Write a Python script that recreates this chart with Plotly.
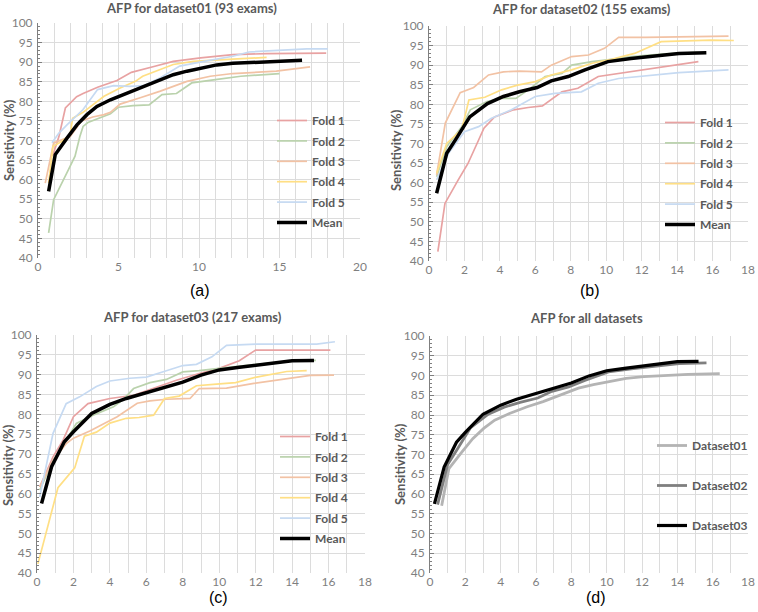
import plotly.graph_objects as go

W, H = 758, 612

fold_names = ["Fold 1", "Fold 2", "Fold 3", "Fold 4", "Fold 5"]
fold_colors = ["#e8a2a2", "#bad2ac", "#f2c2a4", "#ffdf84", "#c6daf2"]
dataset_names = ["Dataset01", "Dataset02", "Dataset03"]
dataset_colors = ["#b4b4b4", "#7f7f7f", "#000000"]

# ---------------- dataset01 (93 exams) ----------------
d1_f1_x = [0.9, 1.3, 1.7, 2.4, 2.8, 3.7, 4.9, 5.8, 7.2, 8.4, 10.1, 12.1, 14.2, 17.9]
d1_f1_y = [66.0, 71.0, 78.3, 81.2, 82.0, 83.6, 85.3, 87.4, 88.9, 90.2, 91.1, 91.9, 92.2, 92.3]
d1_f2_x = [0.66, 0.97, 1.9, 2.3, 2.6, 2.8, 3.1, 4.0, 4.5, 5.0, 5.9, 6.9, 7.7, 8.6, 9.55, 10.9, 12.6, 15.0]
d1_f2_y = [46.4, 54.9, 62.6, 66.0, 71.0, 73.6, 74.6, 75.9, 76.8, 78.5, 78.9, 79.1, 81.7, 82.0, 84.7, 85.5, 86.4, 87.1]
d1_f3_x = [0.45, 0.97, 2.0, 2.7, 3.4, 4.1, 4.5, 5.1, 6.35, 7.6, 9.25, 10.7, 12.1, 14.8, 16.9]
d1_f3_y = [59.1, 69.4, 71.0, 75.0, 76.0, 76.6, 77.2, 79.3, 80.9, 82.6, 85.1, 86.4, 87.1, 87.7, 88.8]
d1_f4_x = [0.66, 0.93, 1.5, 2.0, 2.15, 2.8, 4.1, 5.1, 6.05, 6.5, 8.4, 9.65, 12.1, 14.2]
d1_f4_y = [59.1, 68.5, 69.8, 71.5, 75.7, 77.2, 81.3, 83.4, 85.1, 86.4, 89.4, 90.2, 90.8, 91.2]
d1_f5_x = [0.87, 1.3, 1.8, 2.8, 3.7, 4.7, 5.7, 6.55, 7.6, 8.8, 10.3, 12.1, 13.1, 15.4, 16.7, 18.0]
d1_f5_y = [69.4, 71.9, 74.0, 77.9, 83.0, 84.0, 83.8, 84.0, 86.0, 89.0, 90.2, 91.5, 92.6, 93.0, 93.4, 93.4]
d1_mean_x = [0.66, 1.07, 1.8, 2.42, 3.04, 3.66, 4.5, 5.5, 6.4, 7.4, 8.4, 9.25, 10.1, 11.1, 12.1, 13.4, 14.6, 16.4]
d1_mean_y = [57.0, 66.4, 70.6, 74.0, 76.6, 78.7, 80.4, 82.1, 83.4, 85.1, 86.8, 87.7, 88.5, 89.3, 89.7, 90.0, 90.3, 90.5]

# ---------------- dataset02 (155 exams) ----------------
d2_f1_x = [0.5, 0.9, 1.65, 2.2, 2.8, 3.1, 3.7, 4.77, 5.6, 6.4, 7.5, 8.4, 9.55, 10.7, 12.2, 14.1, 15.2]
d2_f1_y = [42.4, 54.7, 60.7, 64.9, 70.9, 73.9, 76.8, 78.6, 79.2, 79.6, 83.2, 84.1, 87.1, 87.9, 88.8, 90.3, 90.9]
d2_f2_x = [0.43, 1.0, 1.85, 2.33, 3.27, 4.1, 4.9, 5.7, 6.55, 7.5, 8.05, 9.2, 10.3, 11.4, 13.3, 15.2]
d2_f2_y = [61.5, 69.2, 74.3, 78.6, 80.7, 81.5, 81.5, 84.0, 87.1, 87.9, 90.0, 90.9, 91.5, 92.2, 92.9, 93.3]
d2_f3_x = [0.43, 0.92, 1.76, 2.52, 3.36, 4.2, 5.1, 6.35, 6.9, 8.05, 9.0, 9.9, 10.7, 12.2, 16.9]
d2_f3_y = [62.0, 75.2, 83.0, 84.3, 87.5, 88.3, 88.5, 88.3, 90.0, 92.2, 92.6, 94.3, 97.1, 97.1, 97.4]
d2_f4_x = [0.43, 1.0, 1.85, 2.25, 3.15, 4.1, 5.0, 6.0, 6.9, 8.05, 9.2, 10.3, 11.6, 13.1, 15.9, 17.2]
d2_f4_y = [62.4, 70.0, 73.6, 81.1, 81.8, 83.7, 84.9, 85.8, 87.5, 88.8, 90.5, 91.5, 93.0, 96.0, 96.4, 96.3]
d2_f5_x = [0.43, 1.1, 2.0, 2.8, 3.5, 4.65, 6.0, 7.1, 8.6, 9.55, 10.7, 12.55, 14.1, 16.9]
d2_f5_y = [60.7, 67.5, 73.0, 74.3, 76.4, 78.6, 82.0, 82.8, 83.2, 85.4, 86.6, 87.5, 88.1, 88.8]
d2_mean_x = [0.43, 1.0, 1.5, 2.3, 3.3, 4.2, 5.1, 6.1, 6.9, 7.85, 8.8, 10.1, 11.4, 12.9, 14.1, 15.65]
d2_mean_y = [57.3, 67.5, 71.0, 76.8, 80.2, 82.0, 83.2, 84.3, 86.0, 87.1, 88.8, 90.9, 91.7, 92.5, 93.0, 93.2]

# ---------------- dataset03 (217 exams) ----------------
d3_f1_x = [0.15, 0.88, 1.43, 2.0, 2.8, 4.0, 5.3, 6.4, 7.65, 8.9, 10.0, 11.1, 12.0, 16.1]
d3_f1_y = [61.7, 69.3, 73.5, 79.4, 82.7, 84.0, 84.8, 86.5, 88.6, 90.3, 91.6, 93.5, 96.2, 96.2]
d3_f2_x = [0.15, 0.88, 1.6, 2.16, 3.08, 4.2, 4.7, 5.3, 6.2, 7.1, 8.0, 8.9, 10.0, 11.1, 12.5, 14.0, 15.3]
d3_f2_y = [60.9, 68.4, 73.5, 77.7, 79.8, 81.9, 83.6, 86.5, 88.0, 88.8, 90.7, 91.0, 91.6, 92.2, 92.8, 93.4, 93.6]
d3_f3_x = [0.15, 0.88, 1.6, 2.0, 2.9, 4.4, 5.5, 6.2, 7.1, 8.4, 8.9, 10.4, 11.9, 13.9, 15.0, 16.3]
d3_f3_y = [61.7, 68.4, 72.6, 74.0, 75.8, 79.4, 82.8, 83.4, 83.8, 84.0, 86.5, 86.6, 87.8, 89.2, 89.8, 89.9]
d3_f4_x = [0.05, 0.5, 1.15, 2.07, 2.6, 3.26, 4.0, 4.9, 5.6, 6.4, 7.0, 7.8, 8.75, 9.85, 10.9, 12.05, 13.7, 14.8]
d3_f4_y = [42.3, 49.9, 61.5, 66.5, 74.5, 75.5, 77.8, 79.0, 79.2, 79.8, 84.0, 84.6, 87.2, 87.6, 88.0, 89.4, 90.8, 91.0]
d3_f5_x = [0.15, 0.88, 1.6, 2.34, 3.26, 4.0, 5.1, 6.0, 7.1, 8.0, 8.75, 9.6, 10.4, 12.05, 14.05, 15.35, 16.35]
d3_f5_y = [59.2, 75.2, 82.7, 84.4, 87.0, 88.4, 89.1, 89.4, 91.0, 92.3, 92.6, 94.5, 97.4, 97.7, 97.7, 97.7, 98.3]
d3_mean_x = [0.25, 0.8, 1.5, 2.0, 3.0, 4.0, 4.9, 6.0, 7.1, 8.0, 9.0, 10.0, 11.0, 12.0, 13.0, 14.0, 15.2]
d3_mean_y = [57.5, 66.8, 73.1, 75.6, 80.2, 82.5, 84.0, 85.5, 86.9, 88.1, 89.9, 91.2, 91.8, 92.4, 92.9, 93.5, 93.6]

x_ticks_a = [0, 5, 10, 15, 20]
x_ticks_bcd = [0, 2, 4, 6, 8, 10, 12, 14, 16, 18]
y_ticks = [40, 45, 50, 55, 60, 65, 70, 75, 80, 85, 90, 95, 100]

panels = [
    dict(title="AFP for dataset01 (93 exams)", label="(a)",
         folds=[(d1_f1_x, d1_f1_y), (d1_f2_x, d1_f2_y), (d1_f3_x, d1_f3_y), (d1_f4_x, d1_f4_y), (d1_f5_x, d1_f5_y)],
         mean=(d1_mean_x, d1_mean_y), xmax=20, xticks=x_ticks_a,
         box=(38, 360, 23, 258), title_xy=(191, 8), label_xy=(200, 290), ytitle_xy=(9, 140),
         legend_xy=(272, 106)),
    dict(title="AFP for dataset02 (155 exams)", label="(b)",
         folds=[(d2_f1_x, d2_f1_y), (d2_f2_x, d2_f2_y), (d2_f3_x, d2_f3_y), (d2_f4_x, d2_f4_y), (d2_f5_x, d2_f5_y)],
         mean=(d2_mean_x, d2_mean_y), xmax=18, xticks=x_ticks_bcd,
         box=(429, 748, 26, 261), title_xy=(581, 9), label_xy=(590, 290), ytitle_xy=(396, 150),
         legend_xy=(660, 108)),
    dict(title="AFP for dataset03 (217 exams)", label="(c)",
         folds=[(d3_f1_x, d3_f1_y), (d3_f2_x, d3_f2_y), (d3_f3_x, d3_f3_y), (d3_f4_x, d3_f4_y), (d3_f5_x, d3_f5_y)],
         mean=(d3_mean_x, d3_mean_y), xmax=18, xticks=x_ticks_bcd,
         box=(37, 365, 335, 573), title_xy=(192, 317), label_xy=(218, 597), ytitle_xy=(8, 465),
         legend_xy=(275, 422)),
    dict(title="AFP for all datasets", label="(d)", folds=None,
         xmax=18, xticks=x_ticks_bcd,
         box=(430, 748, 336, 573), title_xy=(586, 318), label_xy=(596, 597), ytitle_xy=(400, 464),
         legend_xy=(652, 431)),
]

fig = go.Figure()
grid_c = "#dcdcdc"
tick_font = dict(family="Lato", size=12, color="#7f7f7f")
title_font = dict(family="Lato", size=13, color="#595959")

annotations = []
for i, p in enumerate(panels):
    n = "" if i == 0 else str(i + 1)
    xa, ya = "x" + n, "y" + n
    leg = "legend" + n
    if p["folds"] is not None:
        for (fx, fy), name, col in zip(p["folds"], fold_names, fold_colors):
            fig.add_trace(go.Scatter(x=fx, y=fy, mode="lines", name=name,
                                     line=dict(color=col, width=1.7), xaxis=xa, yaxis=ya,
                                     legend=leg, legendgroup=leg + name))
        mx, my = p["mean"]
        fig.add_trace(go.Scatter(x=mx, y=my, mode="lines", name="Mean",
                                 line=dict(color="black", width=3.5), xaxis=xa, yaxis=ya,
                                 legend=leg, legendgroup=leg + "Mean"))
        gap = 1.4
    else:
        for (dx, dy), name, col, wd in zip([(d1_mean_x, d1_mean_y), (d2_mean_x, d2_mean_y), (d3_mean_x, d3_mean_y)],
                                           dataset_names, dataset_colors, [2.8, 2.8, 3.2]):
            fig.add_trace(go.Scatter(x=dx, y=dy, mode="lines", name=name,
                                     line=dict(color=col, width=wd), xaxis=xa, yaxis=ya,
                                     legend=leg, legendgroup=leg + name))
        gap = 21
    x0, x1, y0, y1 = p["box"]
    xdom = [x0 / W, x1 / W]
    ydom = [1 - y1 / H, 1 - y0 / H]
    fig.update_layout(**{
        "xaxis" + n: dict(domain=xdom, range=[0, p["xmax"]], tickvals=p["xticks"],
                          showgrid=True, gridcolor=grid_c, gridwidth=1, zeroline=False,
                          showline=False, ticks="", ticklen=0, tickfont=tick_font, anchor=ya,
                          automargin=False,
                          minor=dict(dtick=1, tick0=0, showgrid=True, gridcolor=grid_c, gridwidth=1)),
        "yaxis" + n: dict(domain=ydom, range=[40, 100], tickvals=y_ticks,
                          showgrid=True, gridcolor=grid_c, gridwidth=1, zeroline=False,
                          showline=True, linecolor="#7f7f7f", linewidth=1,
                          ticks="inside", ticklen=4, tickcolor="#7f7f7f",
                          tickfont=tick_font, anchor=xa, ticklabelstandoff=2, automargin=False,
                          minor=dict(dtick=1, tick0=40, ticks="inside", ticklen=2,
                                     tickcolor="#7f7f7f", showgrid=False)),
        leg: dict(x=p["legend_xy"][0] / W, y=1 - p["legend_xy"][1] / H,
                  xanchor="left", yanchor="top", bgcolor="rgba(0,0,0,0)",
                  font=dict(family="Lato", size=12, color="#595959", weight="bold"),
                  tracegroupgap=gap, itemwidth=30),
    })
    annotations.append(dict(text="<b>" + p["title"] + "</b>", x=p["title_xy"][0] / W,
                            y=1 - p["title_xy"][1] / H, xref="paper", yref="paper",
                            showarrow=False, font=title_font, xanchor="center", yanchor="middle"))
    annotations.append(dict(text=p["label"], x=p["label_xy"][0] / W, y=1 - p["label_xy"][1] / H,
                            xref="paper", yref="paper", showarrow=False,
                            font=dict(family="Liberation Sans", size=16, color="#000000"),
                            xanchor="center", yanchor="middle"))
    annotations.append(dict(text="<b>Sensitivity (%)</b>", x=p["ytitle_xy"][0] / W,
                            y=1 - p["ytitle_xy"][1] / H, xref="paper", yref="paper",
                            showarrow=False, textangle=-90,
                            font=dict(family="Lato", size=13, color="#595959"),
                            xanchor="center", yanchor="middle"))

fig.update_layout(width=W, height=H, margin=dict(l=0, r=0, t=0, b=0, autoexpand=False),
                  paper_bgcolor="white", plot_bgcolor="white",
                  showlegend=True, annotations=annotations)

reset_js = ("var s=document.createElement('style');"
            "s.textContent='html,body{margin:0!important;padding:0!important;overflow:hidden;}"
            "body>div{margin:0;padding:0;line-height:0;}';"
            "document.head.appendChild(s);")

fig.write_html("out.html", config={"displayModeBar": False}, post_script=reset_js)
